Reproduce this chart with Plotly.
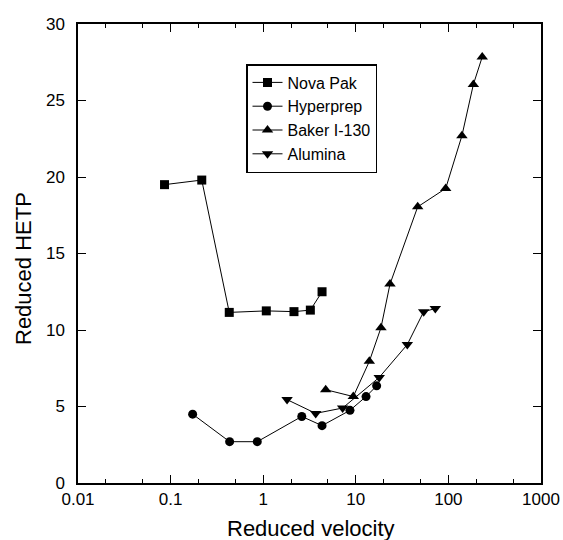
import plotly.graph_objects as go

FONT = "Arial, Liberation Sans, sans-serif"

# Data
nova_x = [0.086, 0.217, 0.43, 1.08, 2.15, 3.23, 4.32]
nova_y = [19.5, 19.8, 11.15, 11.25, 11.2, 11.3, 12.5]

hyper_x = [0.173, 0.434, 0.863, 2.61, 4.32, 8.65, 12.9, 16.8]
hyper_y = [4.5, 2.7, 2.7, 4.35, 3.75, 4.75, 5.65, 6.35]

baker_x = [4.73, 9.4, 14.0, 18.7, 23.4, 46.6, 93.5, 140, 186, 232]
baker_y = [6.1, 5.65, 7.95, 10.15, 13.0, 18.05, 19.25, 22.7, 26.05, 27.85]

alum_x = [1.81, 3.69, 7.21, 17.9, 36.0, 54.1, 72.2]
alum_y = [5.45, 4.55, 4.9, 6.9, 9.05, 11.2, 11.4]

x_tickvals = [0.01, 0.1, 1, 10, 100, 1000]
x_ticktext = ["0.01", "0.1", "1", "10", "100", "1000"]
y_tickvals = [0, 5, 10, 15, 20, 25, 30]

series = [
    ("Nova Pak", nova_x, nova_y, "square", 9),
    ("Hyperprep", hyper_x, hyper_y, "circle", 9),
    ("Baker I-130", baker_x, baker_y, "triangle-up", 10),
    ("Alumina", alum_x, alum_y, "triangle-down", 10),
]

fig = go.Figure()
for name, xs, ys, sym, sz in series:
    fig.add_trace(go.Scatter(
        x=xs, y=ys, name=name, mode="lines+markers",
        line=dict(color="black", width=1),
        marker=dict(symbol=sym, size=sz, color="black"),
    ))

axis_common = dict(
    showline=True, linecolor="black", linewidth=1.5, mirror="allticks",
    ticks="inside", ticklen=8, tickwidth=1.2, tickcolor="black",
    showgrid=False, zeroline=False, automargin=False,
    tickfont=dict(family=FONT, size=17, color="black"),
)

fig.update_xaxes(
    type="log", range=[-2, 3],
    tickmode="array", tickvals=x_tickvals, ticktext=x_ticktext,
    minor=dict(ticks="inside", ticklen=4, tickwidth=1, tickcolor="black", showgrid=False),
    **axis_common,
)
fig.update_yaxes(
    range=[0, 30], tickmode="array", tickvals=y_tickvals,
    ticklabelstandoff=8,
    **axis_common,
)

fig.add_annotation(
    text="Reduced velocity", xref="paper", yref="paper",
    x=(311 - 78) / 463, y=(483 - 528) / 459, xanchor="center", yanchor="middle",
    showarrow=False, font=dict(family=FONT, size=22, color="black"),
)
fig.add_annotation(
    text="Reduced HETP", xref="paper", yref="paper", textangle=-90,
    x=(23 - 78) / 463, y=(483 - 269) / 459, xanchor="center", yanchor="middle",
    showarrow=False, font=dict(family=FONT, size=22, color="black"),
)

fig.update_layout(
    template="none",
    width=563, height=540,
    margin=dict(l=78, r=22, t=24, b=57, pad=0, autoexpand=False),
    paper_bgcolor="white", plot_bgcolor="white",
    font=dict(family=FONT, color="black"),
    legend=dict(
        x=(246 - 78) / 463, y=(483 - 64) / 459, xanchor="left", yanchor="top",
        bordercolor="black", borderwidth=1.5, bgcolor="white",
        font=dict(family=FONT, size=16, color="black"),
        itemwidth=30, tracegroupgap=0,
    ),
    showlegend=True,
)

fig.write_html("out.html")
